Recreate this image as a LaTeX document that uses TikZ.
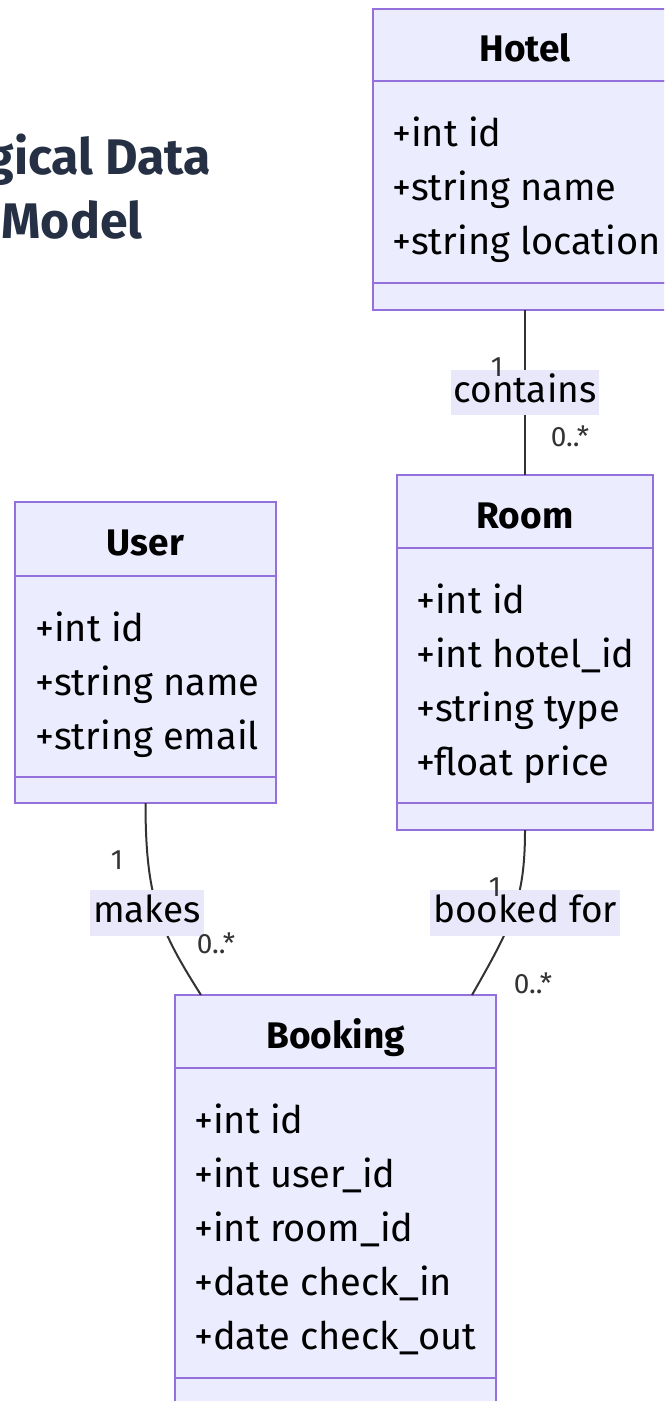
\documentclass[tikz,border=0pt]{standalone}
\usepackage{fontspec}
\setmainfont{Fira Sans}
\usetikzlibrary{calc,positioning}
\newdimen\pxdim
\pxdim=0.75pt
\definecolor{classfill}{RGB}{236,236,255}
\definecolor{classline}{RGB}{147,112,219}
\definecolor{labelfill}{RGB}{232,232,250}
\definecolor{edgeline}{RGB}{51,51,51}
\definecolor{titlecolor}{RGB}{38,48,68}
\tikzstyle{classpart}=[
  draw=classline,
  fill=classfill,
  line width=1.5pt,
  inner sep=0pt,
  outer sep=0pt,
]
\tikzstyle{classhead}=[
  classpart,
  text height=25pt,
  text depth=0pt,
  font={\fontsize{27.75pt}{33pt}\selectfont\bfseries},
]
\tikzstyle{attrs}=[
  inner sep=0pt,
  anchor=north west,
  align=left,
  font={\fontsize{28.5pt}{40.5pt}\selectfont},
]
\tikzstyle{assoc}=[
  draw=edgeline,
  line width=1.5pt,
]
\tikzstyle{edgelabel}=[
  fill=labelfill,
  inner xsep=2pt,
  inner ysep=3.5pt,
  text height=20.8pt,
  text depth=6pt,
  font={\fontsize{27.75pt}{33pt}\selectfont},
]
\tikzstyle{mult}=[
  inner sep=0pt,
  color=edgeline,
  font={\fontsize{21pt}{24pt}\selectfont},
]
\tikzset{
  x=\pxdim,
  y=-\pxdim,
}

\begin{document}
\begin{tikzpicture}
  \path [use as bounding box, fill=white] (0,0) rectangle (664,1401);
  \clip (0,0) rectangle (664,1401);

  \node [font={\fontsize{37.5pt}{48pt}\selectfont\bfseries}, color=titlecolor,
  align=center] (title) at (72,187) {Logical Data\\Model};

  % classes
  \node [classhead, minimum width=304\pxdim, minimum height=72\pxdim,
  anchor=north] (hotel) at (525,9) {Hotel};
  \node [classpart, minimum width=304\pxdim, minimum height=202\pxdim,
  below=0pt of hotel] (hotel body) {};
  \node [classpart, minimum width=304\pxdim, minimum height=27\pxdim,
  below=0pt of hotel body] (hotel ops) {};
  \node [attrs] (hotel attrs) at ($(hotel body.north west)+(19,36)$)
  {+int id\\+string name\\+string location};

  \node [classhead, minimum width=256\pxdim, minimum height=73\pxdim,
  anchor=north] (room) at (525,475) {Room};
  \node [classpart, minimum width=256\pxdim, minimum height=255\pxdim,
  below=0pt of room] (room body) {};
  \node [classpart, minimum width=256\pxdim, minimum height=27\pxdim,
  below=0pt of room body] (room ops) {};
  \node [attrs] (room attrs) at ($(room body.north west)+(19,36)$)
  {+int id\\+int hotel\_id\\+string type\\+float price};

  \node [classhead, minimum width=261\pxdim, minimum height=74\pxdim,
  anchor=north] (user) at (145.5,502) {User};
  \node [classpart, minimum width=261\pxdim, minimum height=201\pxdim,
  below=0pt of user] (user body) {};
  \node [classpart, minimum width=261\pxdim, minimum height=26\pxdim,
  below=0pt of user body] (user ops) {};
  \node [attrs] (user attrs) at ($(user body.north west)+(20,36)$)
  {+int id\\+string name\\+string email};

  \node [classhead, minimum width=321\pxdim, minimum height=73\pxdim,
  anchor=north] (booking) at (335.5,995) {Booking};
  \node [classpart, minimum width=321\pxdim, minimum height=310\pxdim,
  below=0pt of booking] (booking body) {};
  \node [classpart, minimum width=321\pxdim, minimum height=27\pxdim,
  below=0pt of booking body] (booking ops) {};
  \node [attrs] (booking attrs) at ($(booking body.north west)+(19,36)$)
  {+int id\\+int user\_id\\+int room\_id\\+date check\_in\\+date check\_out};

  % associations
  \draw [assoc] (hotel ops.south)
  -- node [edgelabel] (contains) {contains} (room.north);
  \draw [assoc] (user ops.south) .. controls +(0,97) and +(-41,-65)
  .. ($(booking.north west)+(26,0)$);
  \node [edgelabel] (makes) at (147,913) {makes};
  \draw [assoc] (room ops.south) .. controls +(0,70) and +(40,-70)
  .. ($(booking.north east)+(-24,0)$);
  \node [edgelabel] (booked) at (525,913) {booked for};

  % multiplicities
  \node [mult] (hotel one) at (497,367) {1};
  \node [mult] (room many) at (570,436) {0..*};
  \node [mult] (user one) at (117,860) {1};
  \node [mult] (user many) at (216,943) {0..*};
  \node [mult] (room one) at (495,887) {1};
  \node [mult] (booking many) at (533,983) {0..*};
\end{tikzpicture}
\end{document}
